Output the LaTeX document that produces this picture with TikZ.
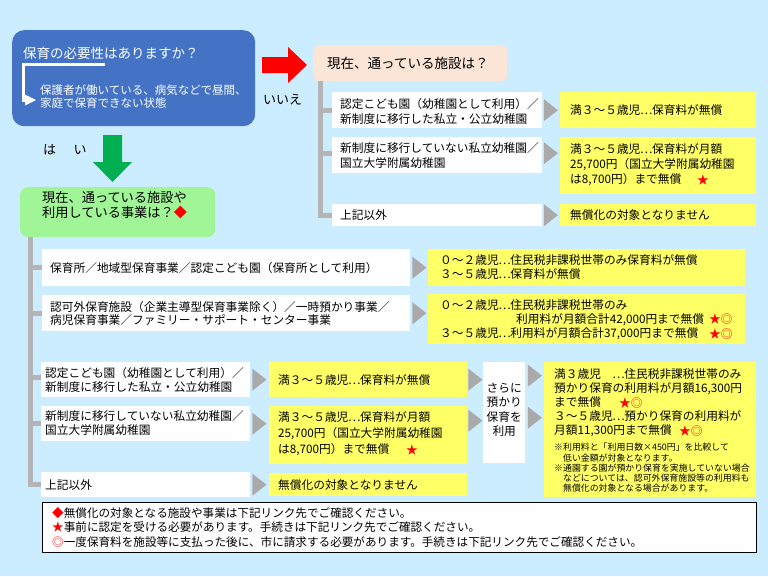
\documentclass[tikz,border=0pt]{standalone}
\usepackage{fontspec}
\newfontfamily\jp{Noto Sans CJK JP}
\usetikzlibrary{calc}
\definecolor{bgc}{RGB}{204,236,255}
\definecolor{bluebox}{RGB}{68,114,196}
\definecolor{peach}{RGB}{251,229,214}
\definecolor{greenbox}{RGB}{160,245,150}
\definecolor{greenarrow}{RGB}{0,176,80}
\definecolor{yel}{RGB}{255,255,102}
\definecolor{treegray}{RGB}{180,180,180}
\definecolor{trigray}{RGB}{170,170,170}
\definecolor{redc}{RGB}{255,0,0}
\newcommand\gtri[2][1.5]{\fill[trigray, shift={(#2)}] (#1,-11) -- (#1,11) -- ({#1+14},0) -- cycle;}
\newcommand\elli{\makebox[1em][c]{…}}
\begin{document}
\begin{tikzpicture}[x=1pt, y=-1pt,
  boxbase/.style={inner sep=0pt, anchor=north west},
  wbox/.style={boxbase, fill=white},
  ybox/.style={boxbase, fill=yel},
  tree/.style={treegray, line width=5pt},
  txt/.style={inner sep=0pt, anchor=west, align=left, font=\jp\fontsize{11.7pt}{13.5pt}\selectfont},
  ttl/.style={txt, font=\jp\fontsize{13.5pt}{15pt}\selectfont},
  star/.style={txt, text=redc}
]
\useasboundingbox (0,0) rectangle (768,576);
\fill[bgc] (0,0) rectangle (768,576);

% ---- question box (blue)
\node[boxbase, fill=bluebox, rounded corners=12pt, minimum width=243pt, minimum height=96pt] (q1) at (12,30) {};
\node[ttl, text=white] (q1t) at (23,53) {保育の必要性はありますか？};
\draw[white, line width=3.5pt] (105,64.7) -- (23.3,64.7) -- (23.3,100) -- (27,100);
\fill[white] (25,94.5) -- (36,100) -- (25,105.5) -- cycle;
\node[txt, text=white, font=\jp\fontsize{11.5pt}{13.5pt}\selectfont] (q1s) at (40,96.5) {保護者が働いている、病気などで昼間、\\家庭で保育できない状態};

% ---- no branch
\fill[redc] (262,57) -- (288,57) -- (288,47) -- (307,65) -- (288,83) -- (288,73) -- (262,73) -- cycle;
\node[txt, font=\jp\fontsize{13pt}{15pt}\selectfont] (no) at (263,100) {いいえ};

\node[boxbase, fill=peach, rounded corners=6pt, minimum width=194pt, minimum height=36pt] (pt) at (313,45) {};
\node[ttl] (ptt) at (327,63) {現在、通っている施設は？};

\node[wbox, minimum width=210pt, minimum height=36pt] (pw1) at (332,92) {};
\node[wbox, minimum width=210pt, minimum height=36pt] (pw2) at (332,137) {};
\node[wbox, minimum width=210pt, minimum height=22pt] (pw3) at (332,204) {};
\node[ybox, minimum width=196pt, minimum height=36pt] (py1) at (560,92) {};
\node[ybox, minimum width=196pt, minimum height=57pt] (py2) at (560,137) {};
\node[ybox, minimum width=196pt, minimum height=22pt] (py3) at (560,204) {};

\coordinate (ptrunk) at ($(pt.south west)+(7.5,0)$);
\draw[tree] (ptrunk) |- (pw3.west);
\draw[tree] (ptrunk |- pw1.west) -- (pw1.west);
\draw[tree] ($(ptrunk |- pw2.west)+(0,-2)$) -- ($(pw2.west)+(0,-2)$);
\gtri{pw1.east}
\gtri{$(pw2.east)+(0,-2)$}
\gtri{pw3.east}

\node[txt, font=\jp\fontsize{11.7pt}{15pt}\selectfont] (pw1t) at (340,111) {認定こども園（幼稚園として利用）／\\新制度に移行した私立・公立幼稚園};
\node[txt, font=\jp\fontsize{11.7pt}{15pt}\selectfont] (pw2t) at (340,155.5) {新制度に移行していない私立幼稚園／\\国立大学附属幼稚園};
\node[txt] (pw3t) at (340,215) {上記以外};
\node[txt] (py1t) at (570,110) {満３～５歳児\elli 保育料が無償};
\node[txt, font=\jp\fontsize{11.7pt}{15pt}\selectfont] (py2t) at (570,165) {満３～５歳児\elli 保育料が月額\\25,700円（国立大学附属幼稚園\\は8,700円）まで無償};
\node[star] (py2s) at (697,180) {★};
\node[txt] (py3t) at (570,215) {無償化の対象となりません};

% ---- yes branch
\fill[greenarrow] (103,135) -- (122,135) -- (122,162) -- (132,162) -- (112.5,182) -- (93,162) -- (103,162) -- cycle;
\node[txt, font=\jp\fontsize{13pt}{15pt}\selectfont] (yes) at (43,150) {は\hspace{17.5pt}い};

\node[boxbase, fill=greenbox, rounded corners=8pt, minimum width=195pt, minimum height=50pt] (gb) at (20,187) {};
\node[txt, font=\jp\fontsize{13.2pt}{15pt}\selectfont] (gbt) at (42,205.5) {現在、通っている施設や\\利用している事業は？\textcolor{redc}{◆}};

\node[wbox, minimum width=368pt, minimum height=37pt] (mA) at (42,249) {};
\node[ybox, minimum width=317pt, minimum height=37pt] (mAy) at (428,249) {};
\node[wbox, minimum width=368pt, minimum height=36pt] (mB) at (42,295) {};
\node[ybox, minimum width=317pt, minimum height=50pt] (mBy) at (428,294) {};
\node[wbox, minimum width=209pt, minimum height=35pt] (mC) at (41,362) {};
\node[ybox, minimum width=198pt, minimum height=35pt] (mCy) at (269,362) {};
\node[wbox, minimum width=209pt, minimum height=35pt] (mD) at (41,406) {};
\node[ybox, minimum width=198pt, minimum height=58pt] (mDy) at (269,406) {};
\node[wbox, minimum width=209pt, minimum height=25pt] (mE) at (41,472) {};
\node[ybox, minimum width=198pt, minimum height=23pt] (mEy) at (269,473) {};
\node[wbox, minimum width=42pt, minimum height=101pt] (sara) at (483,362) {};
\node[ybox, minimum width=212pt, minimum height=135pt] (fy) at (544,362) {};

\coordinate (gtrunk) at ($(gb.south west)+(10,0)$);
\draw[tree] (gtrunk) |- (mE.west);
\draw[tree] (gtrunk |- mA.west) -- (mA.west);
\draw[tree] (gtrunk |- mB.west) -- (mB.west);
\draw[tree] ($(gtrunk |- mC.west)+(0,-2)$) -- ($(mC.west)+(0,-2)$);
\draw[tree] (gtrunk |- mD.west) -- (mD.west);

\gtri[2]{mA.east}
\gtri[2]{mB.east}
\gtri[2]{mC.east}
\gtri[2]{mD.east}
\gtri[2]{mE.east}
\gtri[1]{mCy.east}
\gtri[1]{$(mDy.east |- mD.east)+(0,-3)$}
\gtri[2.5]{$(sara.east)+(0,-37)$}
\gtri[2.5]{$(sara.east)+(0,5)$}

\node[txt] (mAt) at (50,268) {保育所／地域型保育事業／認定こども園（保育所として利用）};
\node[txt, font=\jp\fontsize{11.7pt}{13.5pt}\selectfont] (mBt) at (50,313.5) {認可外保育施設（企業主導型保育事業除く）／一時預かり事業／\\病児保育事業／ファミリー・サポート・センター事業};
\node[txt, font=\jp\fontsize{11.7pt}{13.5pt}\selectfont] (mAyt) at (440,267) {０～２歳児\elli 住民税非課税世帯のみ保育料が無償\\３～５歳児\elli 保育料が無償};
\node[txt] (mBy1) at (440,305) {０～２歳児\elli 住民税非課税世帯のみ};
\node[txt] (mBy2) at (516,319.5) {利用料が月額合計42,000円まで無償};
\node[txt] (mBy3) at (440,334) {３～５歳児\elli 利用料が月額合計37,000円まで無償};
\node[star] (mBs2) at (709,319.5) {★◎};
\node[star] (mBs3) at (709,334) {★◎};

\node[txt] (mCt) at (45,380) {認定こども園（幼稚園として利用）／\\新制度に移行した私立・公立幼稚園};
\node[txt, font=\jp\fontsize{11.7pt}{14pt}\selectfont] (mDt) at (45,423) {新制度に移行していない私立幼稚園／\\国立大学附属幼稚園};
\node[txt] (mEt) at (45,485) {上記以外};
\node[txt] (mCyt) at (278,380) {満３～５歳児\elli 保育料が無償};
\node[txt, font=\jp\fontsize{11.7pt}{16pt}\selectfont] (mDyt) at (278,434) {満３～５歳児\elli 保育料が月額\\25,700円（国立大学附属幼稚園\\は8,700円）まで無償};
\node[star] (mDys) at (406,450) {★};
\node[txt] (mEyt) at (278,485) {無償化の対象となりません};

\node[inner sep=0pt, align=center, font=\jp\fontsize{11.7pt}{14.3pt}\selectfont] (sarat) at ($(sara.center)+(0,-3)$) {さらに\\預かり\\保育を\\利用};

\node[txt, font=\jp\fontsize{11.7pt}{14pt}\selectfont] (fyt) at (554,403) {満３歳児　\elli 住民税非課税世帯のみ\\預かり保育の利用料が月額16,300円\\まで無償\\３～５歳児\elli 預かり保育の利用料が\\月額11,300円まで無償};
\node[star] (fys1) at (619,403) {★◎};
\node[star] (fys2) at (679,431) {★◎};
\node[txt, font=\jp\fontsize{8.9pt}{10.3pt}\selectfont] (fysm) at (554,468) {※利用料と「利用日数×450円」を比較して\\　低い金額が対象となります。\\※通園する園が預かり保育を実施していない場合\\　などについては、認可外保育施設等の利用料も\\　無償化の対象となる場合があります。};

% ---- notes
\node[boxbase, fill=white, draw=black, line width=0.8pt, minimum width=714pt, minimum height=50pt] (nb) at (42,502) {};
\node[txt, font=\jp\fontsize{11.6pt}{12.5pt}\selectfont] (nb1) at (52,513) {\textcolor{redc}{◆}無償化の対象となる施設や事業は下記リンク先でご確認ください。};
\node[txt, font=\jp\fontsize{11.6pt}{12.5pt}\selectfont] (nb2) at (52,527.5) {\textcolor{redc}{★}事前に認定を受ける必要があります。手続きは下記リンク先でご確認ください。};
\node[txt, font=\jp\fontsize{11.6pt}{12.5pt}\selectfont] (nb3) at (52,542) {\textcolor{redc}{◎}一度保育料を施設等に支払った後に、市に請求する必要があります。手続きは下記リンク先でご確認ください。};
\end{tikzpicture}
\end{document}
